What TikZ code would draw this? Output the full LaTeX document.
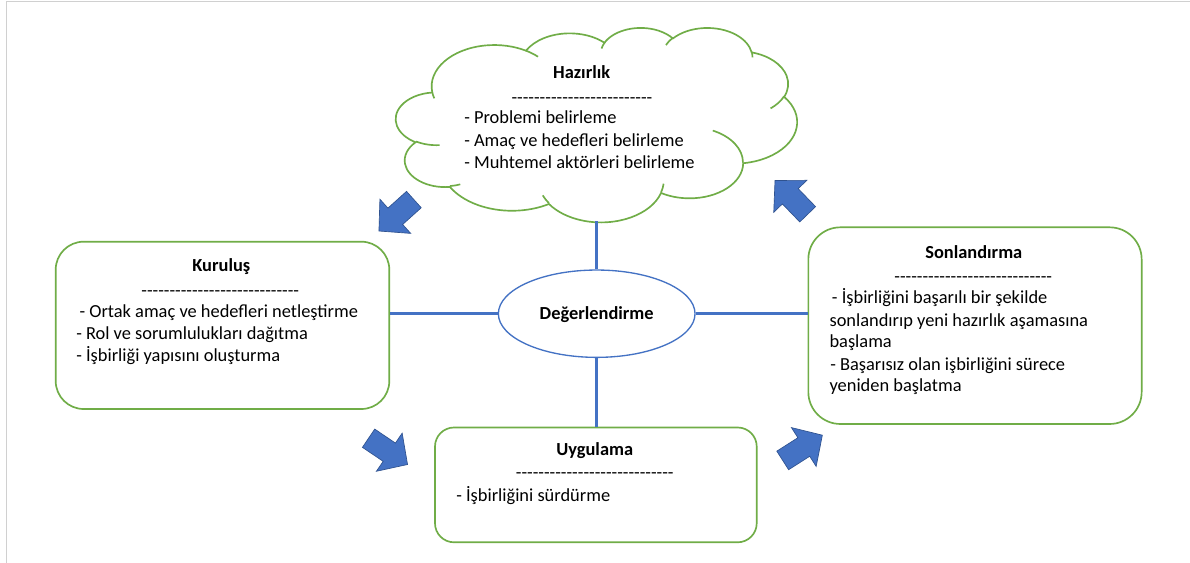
\documentclass[tikz,border=0pt]{standalone}
\usepackage{fontspec}
\setmainfont{Carlito}
\usetikzlibrary{shapes.geometric}
\definecolor{grn}{HTML}{70AD47}
\definecolor{blu}{HTML}{4472C4}
\definecolor{bludark}{HTML}{2F528F}
\definecolor{framegray}{HTML}{D0D0D0}
\newcommand\hyl[1]{\foreach \i in {1,...,#1}{-\kern0pt}}
% elliptical arc with DrawingML-style (visual) angles -> style ca<id>
\newcommand\cloudarc[5]{%
  \pgfmathsetmacro\cta{atan2((#2)*sin(#4),(#3)*cos(#4))}%
  \pgfmathsetmacro\ctb{atan2((#2)*sin((#4)+(#5)),(#3)*cos((#4)+(#5)))}%
  \pgfmathsetmacro\ctd{\ctb-\cta}%
  \pgfmathsetmacro\ctd{\ctd+360*((#5)>0)*(\ctd<0)-360*((#5)<0)*(\ctd>0)}%
  \edef\ctmp{\noexpand\tikzset{ca#1/.style={start angle=\cta, delta angle=\ctd, x radius=#2, y radius=#3}}}%
  \ctmp}
\cloudarc{1}{15.632}{21.273}{-190.4875}{123.7805}
\cloudarc{2}{12.345}{16.822}{-144.1024}{89.9452}
\cloudarc{3}{10.104}{13.762}{-145.8079}{99.7230}
\cloudarc{4}{11.243}{15.266}{-130.9861}{117.2417}
\cloudarc{5}{12.345}{16.836}{-78.7089}{109.0269}
\cloudarc{6}{15.683}{21.343}{-46.2673}{130.2690}
\cloudarc{7}{13.391}{18.211}{0.6250}{114.0333}
\cloudarc{8}{15.630}{21.331}{22.4516}{115.1726}
\cloudarc{9}{17.870}{24.405}{66.2426}{75.7110}
\cloudarc{10}{10.093}{13.699}{-274.9421}{146.7356}
\cloudarc{11}{10.058}{13.762}{-246.8285}{152.5189}
\cloudarc{i1}{10.058}{13.762}{86.7420}{26.4295}
\cloudarc{i2}{10.093}{13.699}{73.6105}{11.4475}
\cloudarc{i3}{15.630}{21.331}{137.6242}{14.0811}
\cloudarc{i4}{15.630}{21.331}{6.4533}{15.9984}
\cloudarc{i5}{13.391}{18.211}{-70.2924}{70.9174}
\cloudarc{i6}{12.345}{16.836}{30.3180}{27.7515}
\cloudarc{i7}{11.243}{15.266}{-13.7443}{14.8589}
\cloudarc{i8}{11.243}{15.266}{-149.1815}{18.1954}
\cloudarc{i9}{10.104}{13.762}{-163.4943}{17.6864}
\cloudarc{i10}{15.632}{21.273}{-66.7070}{12.3194}
\cloudarc{i11}{15.632}{21.273}{157.6544}{11.8582}
\tikzset{
  box/.style={draw=grn, line width=1.25pt, fill=white, inner sep=0pt},
  cloudline/.style={draw=grn, line width=1.25pt},
  txt/.style={inner sep=0pt, anchor=base west, font=\fontsize{13.8}{17}\selectfont},
  ttl/.style={inner sep=0pt, anchor=base, font=\fontsize{13.8}{17}\selectfont\bfseries},
  dsh/.style={inner sep=0pt, anchor=base, font=\fontsize{13.8}{17}\selectfont},
  conn/.style={draw=blu, line width=2pt},
  arrowfill/.style={fill=blu, draw=bludark, line width=0.5pt, line join=miter},
  barrow/.pic={\path[arrowfill] (-25,-11) -- (0,-11) -- (0,-23) -- (22,0) -- (0,23) -- (0,11) -- (-25,11) -- cycle;}
}
\begin{document}
\begin{tikzpicture}[x=0.75pt,y=-0.75pt]
\useasboundingbox (0,0) rectangle (1190,563);
\fill[white] (0,0) rectangle (1190,563);
\draw[framegray, line width=0.75pt] (6,563) -- (6,2) -- (1190,2);

% cloud (unit square 0..100 mapped to x 396..797, y 27.3..221.7)
\begin{scope}[shift={(396,27.3)}, x=3.0075pt, y=-1.458pt]
  \path[cloudline, fill=white] (9.028,33.264) arc[ca1] arc[ca2] arc[ca3] arc[ca4] arc[ca5] arc[ca6]
     arc[ca7] arc[ca8] arc[ca9] arc[ca10] arc[ca11] -- cycle;
  \path[cloudline]
     (10.863,60.595) arc[cai1]
     (16.037,80.785) arc[cai2]
     (38.144,90.486) arc[cai3]
     (66.729,80.442) arc[cai4]
     (79.002,53.134) arc[cai5]
     (96.755,35.542) arc[cai6]
     (88.713,12.560) arc[cai7]
     (67.310,9.148) arc[cai8]
     (51.252,10.926) arc[cai9]
     (32.407,12.019) arc[cai10]
     (9.553,36.549) arc[cai11];
\end{scope}
\coordinate (cldb) at (596.7,221.5);

% boxes
\node[box, rounded corners=21pt, minimum width=250.2pt, minimum height=125.5pt] (kur) at (222.5,325.35) {};
\node[box, rounded corners=24pt, minimum width=250pt, minimum height=147.5pt] (son) at (975,325.65) {};
\node[box, rounded corners=14.3pt, minimum width=241.3pt, minimum height=86.1pt] (uyg) at (595.85,484.9) {};

% ellipse
\node[ellipse, draw=blu, line width=1pt, minimum width=147.5pt, minimum height=65.5pt, inner sep=0pt] (ell) at (596.7,313.7) {};
\node[ttl] (ellt) at (596.7,319.3) {Değerlendirme};

% connectors
\draw[conn] (ell.north) -- (cldb);
\draw[conn] (ell.south) -- (ell.south |- uyg.north);
\draw[conn] (ell.west) -- (ell.west -| kur.east);
\draw[conn] (ell.east) -- (ell.east -| son.west);

% cloud text
\node[ttl] (ht) at (581.7,79) {Hazırlık};
\node[dsh] (hd) at (582,103.3) {\hyl{25}};
\node[txt] (h1) at (464,124) {- Problemi belirleme};
\node[txt] (h2) at (464,146.7) {- Amaç ve hedefleri belirleme};
\node[txt] (h3) at (464,169) {- Muhtemel aktörleri belirleme};

% Kurulus text
\node[ttl] (kt) at (221.3,271.7) {Kuruluş};
\node[dsh] (kd) at (220.3,296.7) {\hyl{28}};
\node[txt] (k1) at (79.3,317) {- Ortak amaç ve hedefleri netleştirme};
\node[txt] (k2) at (76,339.5) {- Rol ve sorumlulukları dağıtma};
\node[txt] (k3) at (76,362) {- İşbirliği yapısını oluşturma};

% Sonlandirma text
\node[ttl] (st) at (973.8,258.3) {Sonlandırma};
\node[dsh] (sd) at (973.3,282) {\hyl{28}};
\node[txt] (s1) at (831.7,304) {- İşbirliğini başarılı bir şekilde};
\node[txt] (s2) at (829.3,326) {sonlandırıp yeni hazırlık aşamasına};
\node[txt] (s3) at (829.3,348) {başlama};
\node[txt] (s4) at (830,370) {- Başarısız olan işbirliğini sürece};
\node[txt] (s5) at (829.3,392) {yeniden başlatma};

% Uygulama text
\node[ttl] (ut) at (594.7,455) {Uygulama};
\node[dsh] (ud) at (594.8,478) {\hyl{28}};
\node[txt] (u1) at (456,501) {- İşbirliğini sürdürme};

% block arrows
\pic[rotate=222] at (395.3,216.3) {barrow};
\pic[rotate=134] at (790.3,196.3) {barrow};
\pic[rotate=-34] at (389.3,452.2) {barrow};
\pic[rotate=32.5] at (803.8,447) {barrow};
\end{tikzpicture}
\end{document}
